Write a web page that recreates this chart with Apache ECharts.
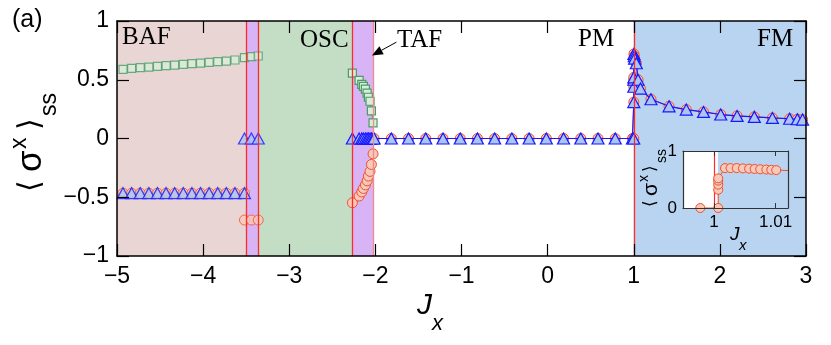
<!DOCTYPE html>
<html><head><meta charset="utf-8">
<script src="https://cdn.jsdelivr.net/npm/echarts@6/dist/echarts.min.js"></script>
<style>html,body{margin:0;padding:0;background:#fff}#c{width:831px;height:345px}</style>
</head><body><div id="c"></div>
<script>
// ---- data ----
const xTicks = [-5, -4, -3, -2, -1, 0, 1, 2, 3];
const yTicks = [-1, -0.5, 0, 0.5, 1];
const insetXTicks = [1, 1.01];
const insetYTicks = [0, 1];
const phaseNames = ['BAF', 'OSC', 'TAF', 'PM', 'FM'];
// phase boundaries on Jx
const bafRange = [-5, -3.502];
const gapRange = [-3.502, -3.362];
const oscRange = [-3.362, -2.267];
const tafRange = [-2.267, -2.015];
const fmRange = [1.0, 3];
const boundaryLines = [-3.502, -3.362, -2.267, -2.015, 1.0];
// TAF annotation arrow (tail, head) in data coords
const tafArrow = [[-1.756, 0.82], [-2.04, 0.706]];

// BAF branch
const bafX = [-4.93, -4.83, -4.73, -4.63, -4.53, -4.43, -4.33, -4.23, -4.13, -4.03, -3.93, -3.83, -3.73, -3.63, -3.52];
const bafSq = [0.589, 0.597, 0.603, 0.608, 0.614, 0.620, 0.625, 0.631, 0.637, 0.642, 0.648, 0.654, 0.659, 0.668, 0.688];
const bafCirc = [-0.465, -0.465, -0.465, -0.465, -0.465, -0.465, -0.465, -0.465, -0.465, -0.465, -0.465, -0.465, -0.465, -0.465, -0.465];
const bafTri = [-0.465, -0.465, -0.465, -0.465, -0.465, -0.465, -0.465, -0.465, -0.465, -0.465, -0.465, -0.465, -0.465, -0.465, -0.465];
// narrow gap region
const gapX = [-3.44, -3.36];
const gapSq = [0.697, 0.702];
const jumpX = [-3.52, -3.44, -3.36];
const jumpTri = [0, 0, 0];
const jumpCirc = [-0.694, -0.694, -0.694];
// TAF
const tafX = [-2.267, -2.189, -2.158, -2.139, -2.116, -2.096, -2.081, -2.062, -2.046, -2.027];
const tafSq = [0.557, 0.495, 0.461, 0.444, 0.421, 0.387, 0.351, 0.317, 0.235, 0.133];
const tafCirc = [-0.547, -0.490, -0.455, -0.425, -0.395, -0.360, -0.320, -0.280, -0.221, -0.131];
const tafTri = [0, 0, 0, 0, 0, 0, 0, 0, 0, 0];
// PM
const pmX = [-2.015, -1.815, -1.615, -1.415, -1.215, -1.015, -0.815, -0.615, -0.415, -0.215, -0.015, 0.185, 0.385, 0.585, 0.785, 0.985];
const pmVal = [0, 0, 0, 0, 0, 0, 0, 0, 0, 0, 0, 0, 0, 0, 0, 0];
// FM
const fmX = [1.0, 1.0007, 1.0007, 1.0007, 1.0007, 1.002, 1.006, 1.01, 1.03, 1.05, 1.078, 1.2, 1.41, 1.61, 1.81, 2.01, 2.2, 2.4, 2.61, 2.81, 2.9, 2.96];
const fmVal = [0, 0.31, 0.44, 0.50, 0.52, 0.72, 0.70, 0.68, 0.64, 0.50, 0.425, 0.334, 0.274, 0.246, 0.226, 0.204, 0.192, 0.184, 0.175, 0.168, 0.164, 0.161];
// inset
const insetRangeX = [0.995, 1.012];
const insetBoundary = 1.00066;
const insX = [0.9978, 1.0007, 1.0007, 1.0007, 1.0007, 1.0007, 1.0018, 1.0027, 1.0037, 1.0047, 1.0057, 1.0066, 1.0075, 1.0085, 1.0093, 1.0101, 1.0125];
const insY = [0, 0, 0.32, 0.41, 0.48, 0.52, 0.70, 0.70, 0.70, 0.695, 0.69, 0.685, 0.68, 0.675, 0.67, 0.665, 0.655];

// ---- styles ----
const C = {
  baf: '#e9d5d3', gap: '#d8b3f5', osc: '#c4dec6', fm: '#b9d4f0',
  red: '#ff2a2a', redLight: '#f28a8a',
  triEdge: '#1818ff', triFill: '#aac6f0',
  circEdge: '#f0502c', circFill: '#f6c9bb',
  sqEdge: '#4b9b6c', sqFill: '#d9edd7'
};
const SANS = 'Liberation Sans, Arial, sans-serif';
const SERIF = 'Liberation Serif, Times New Roman, serif';
const zip = (xs, ys) => xs.map((x, i) => [x, ys[i]]);
const fmt = v => (v < 0 ? '\u2212' + Math.abs(v) : String(v));

const triStyle = { color: C.triFill, borderColor: C.triEdge, borderWidth: 1.2 };
const circStyle = { color: C.circFill, borderColor: C.circEdge, borderWidth: 1 };
const sqStyle = { color: C.sqFill, borderColor: C.sqEdge, borderWidth: 1.2 };
const TRI = [12, 11];

const chart = echarts.init(document.getElementById('c'), null, { renderer: 'canvas' });

const mainAxisLine = { show: true, onZero: false, lineStyle: { color: '#000', width: 1.5 } };
const insetAxisLine = { show: true, onZero: false, lineStyle: { color: '#333', width: 1.2 } };
const mainTick = { inside: true, length: 12, lineStyle: { color: '#000', width: 1.2 } };
const option = {
  animation: false,
  backgroundColor: '#fff',
  grid: [
    { left: 117, top: 21, width: 689, height: 235 },
    { left: 683, top: 151, width: 105, height: 57, show: false }
  ],
  xAxis: [
    { gridIndex: 0, type: 'value', min: -5, max: 3, interval: 1, z: 5,
      axisLine: mainAxisLine, axisTick: mainTick,
      axisLabel: { color: '#000', fontSize: 23, fontFamily: SANS, margin: 9, formatter: fmt },
      splitLine: { show: false } },
    { gridIndex: 0, type: 'value', position: 'top', min: -5, max: 3, interval: 1, z: 5,
      axisLine: mainAxisLine, axisTick: mainTick,
      axisLabel: { show: false }, splitLine: { show: false } },
    { gridIndex: 1, type: 'value', min: insetRangeX[0], max: insetRangeX[1], z: 12,
      axisLine: insetAxisLine,
      axisTick: { inside: true, length: 5, customValues: insetXTicks, lineStyle: { color: '#333' } },
      axisLabel: { color: '#000', fontSize: 17, fontFamily: SANS, margin: 6, customValues: insetXTicks,
        formatter: v => (Math.abs(v - 1) < 1e-9 ? '1' : '1.01') },
      splitLine: { show: false } },
    { gridIndex: 1, type: 'value', position: 'top', min: insetRangeX[0], max: insetRangeX[1], z: 12,
      axisLine: insetAxisLine,
      axisTick: { inside: true, length: 5, customValues: insetXTicks, lineStyle: { color: '#333' } },
      axisLabel: { show: false }, splitLine: { show: false } }
  ],
  yAxis: [
    { gridIndex: 0, type: 'value', min: -1, max: 1, interval: 0.5, z: 5,
      axisLine: mainAxisLine, axisTick: mainTick,
      axisLabel: { color: '#000', fontSize: 23, fontFamily: SANS, margin: 8, formatter: fmt },
      splitLine: { show: false } },
    { gridIndex: 0, type: 'value', position: 'right', min: -1, max: 1, interval: 0.5, z: 5,
      axisLine: mainAxisLine, axisTick: mainTick,
      axisLabel: { show: false }, splitLine: { show: false } },
    { gridIndex: 1, type: 'value', min: 0, max: 1, interval: 1, z: 12,
      axisLine: insetAxisLine, axisTick: { show: false },
      axisLabel: { color: '#000', fontSize: 17, fontFamily: SANS, margin: 6 },
      splitLine: { show: false } },
    { gridIndex: 1, type: 'value', position: 'right', min: 0, max: 1, interval: 1, z: 12,
      axisLine: insetAxisLine, axisTick: { show: false }, axisLabel: { show: false }, splitLine: { show: false } }
  ],
  series: [
    // phase backgrounds + boundaries
    { type: 'line', xAxisIndex: 0, yAxisIndex: 0, data: [], z: 1, silent: true,
      markArea: { silent: true, itemStyle: { opacity: 1 }, data: [
        [{ xAxis: bafRange[0], itemStyle: { color: C.baf } }, { xAxis: bafRange[1] }],
        [{ xAxis: gapRange[0], itemStyle: { color: C.gap } }, { xAxis: gapRange[1] }],
        [{ xAxis: oscRange[0], itemStyle: { color: C.osc } }, { xAxis: oscRange[1] }],
        [{ xAxis: tafRange[0], itemStyle: { color: C.gap } }, { xAxis: tafRange[1] }],
        [{ xAxis: fmRange[0], itemStyle: { color: C.fm } }, { xAxis: fmRange[1] }]
      ] },
      markLine: { silent: true, symbol: 'none', label: { show: false }, animation: false,
        data: boundaryLines.map((v, i) => ({ xAxis: v, lineStyle: { color: i === 3 ? C.redLight : C.red, width: 1.3, type: 'solid' } })) }
    },
    // BAF branch scatter
    { type: 'scatter', xAxisIndex: 0, yAxisIndex: 0, symbol: 'rect', symbolSize: 8, itemStyle: sqStyle, z: 3,
      data: zip(bafX.concat(gapX), bafSq.concat(gapSq)) },
    { type: 'scatter', xAxisIndex: 0, yAxisIndex: 0, symbol: 'circle', symbolSize: 10, itemStyle: circStyle, z: 3,
      data: zip(bafX, bafCirc).concat(zip(jumpX, jumpCirc)) },
    { type: 'scatter', xAxisIndex: 0, yAxisIndex: 0, symbol: 'triangle', symbolSize: TRI, itemStyle: triStyle, z: 4,
      data: zip(bafX, bafTri).concat(zip(jumpX, jumpTri)) },
    // TAF squares
    { type: 'line', xAxisIndex: 0, yAxisIndex: 0, symbol: 'rect', symbolSize: 8, showAllSymbol: true, z: 3,
      lineStyle: { color: C.sqEdge, width: 1 }, itemStyle: sqStyle, data: zip(tafX, tafSq) },
    // circles: TAF, PM, FM
    { type: 'line', xAxisIndex: 0, yAxisIndex: 0, symbol: 'circle', symbolSize: 10, showAllSymbol: true, z: 3,
      lineStyle: { color: C.circEdge, width: 1 }, itemStyle: circStyle,
      data: zip(tafX, tafCirc).concat(zip(pmX, pmVal), zip(fmX, fmVal)) },
    // triangles: TAF, PM, FM
    { type: 'line', xAxisIndex: 0, yAxisIndex: 0, symbol: 'triangle', symbolSize: TRI, showAllSymbol: true, z: 4,
      lineStyle: { color: C.triEdge, width: 1.2 }, itemStyle: triStyle,
      data: zip(tafX, tafTri).concat(zip(pmX, pmVal), zip(fmX, fmVal)) },
    // inset background
    { type: 'line', xAxisIndex: 2, yAxisIndex: 2, data: [], z: 10, silent: true,
      markArea: { silent: true, itemStyle: { opacity: 1 }, data: [
        [{ xAxis: insetRangeX[0], itemStyle: { color: '#ffffff' } }, { xAxis: insetBoundary }],
        [{ xAxis: insetBoundary, itemStyle: { color: C.fm } }, { xAxis: insetRangeX[1] }]
      ] },
      markLine: { silent: true, symbol: 'none', label: { show: false },
        data: [{ xAxis: insetBoundary, lineStyle: { color: C.red, width: 1.2, type: 'solid' } }] } },
    { type: 'line', xAxisIndex: 2, yAxisIndex: 2, symbol: 'circle', symbolSize: 9, showAllSymbol: true, z: 11, clip: true,
      lineStyle: { color: C.circEdge, width: 1 }, itemStyle: circStyle,
      data: insX.map((x, i) => (i === insX.length - 1 ? { value: [x, insY[i]], symbol: 'none' } : [x, insY[i]])) }
  ]
};
chart.setOption(option);

// annotations (text + arrow), arrow placed through the axis scales
const tail = chart.convertToPixel({ xAxisIndex: 0, yAxisIndex: 0 }, tafArrow[0]);
const head = chart.convertToPixel({ xAxisIndex: 0, yAxisIndex: 0 }, tafArrow[1]);
const ang = Math.atan2(head[1] - tail[1], head[0] - tail[0]);
const aL = 11, aW = 4.5;
const back = [head[0] - aL * Math.cos(ang), head[1] - aL * Math.sin(ang)];
const nx = -Math.sin(ang), ny = Math.cos(ang);
const T = (x, y, text, font) => ({ type: 'text', x, y, z: 50,
  style: { text, font, fill: '#000', verticalAlign: 'middle' } });

chart.setOption({
  graphic: [
    T(12, 20, '(a)', '25px ' + SANS),
    T(122, 37, phaseNames[0], '25px ' + SERIF),
    T(300, 40, phaseNames[1], '25px ' + SERIF),
    T(397, 40, phaseNames[2], '25px ' + SERIF),
    T(578, 39, phaseNames[3], '25px ' + SERIF),
    T(757, 39, phaseNames[4], '25px ' + SERIF),
    { type: 'line', z: 50, shape: { x1: tail[0], y1: tail[1], x2: back[0], y2: back[1] }, style: { stroke: '#000', lineWidth: 1 } },
    { type: 'polygon', z: 50, shape: { points: [head, [back[0] + nx * aW, back[1] + ny * aW], [back[0] - nx * aW, back[1] - ny * aW]] }, style: { fill: '#000' } },
    // x-axis name J_x
    T(417, 306, 'J', 'italic 30px ' + SANS),
    T(432, 324, 'x', 'italic 22px ' + SANS),
    // y-axis name <sigma^x>_ss (rotated)
    { type: 'group', x: 31, y: 192, rotation: Math.PI / 2, z: 50, children: [
      T(0, 0, '\u27E8', '30px DejaVu Sans, ' + SANS),
      T(20, 0, '\u03C3', '35px ' + SANS),
      T(43, -11, 'x', '23px ' + SANS),
      T(62, 0, '\u27E9', '30px DejaVu Sans, ' + SANS),
      T(76, 19, 'ss', '23px ' + SANS)
    ] },
    // inset axis names
    T(730, 235, 'J', 'italic 19px ' + SANS),
    T(739, 246, 'x', 'italic 15px ' + SANS),
    { type: 'group', x: 651, y: 207, rotation: Math.PI / 2, z: 50, children: [
      T(0, 0, '\u27E8', '17px DejaVu Sans, ' + SANS),
      T(11, 0, '\u03C3', '21px ' + SANS),
      T(25, -7, 'x', '14px ' + SANS),
      T(35, 0, '\u27E9', '17px DejaVu Sans, ' + SANS),
      T(44, 11, 'ss', '14px ' + SANS)
    ] }
  ]
});
</script>
</body></html>
